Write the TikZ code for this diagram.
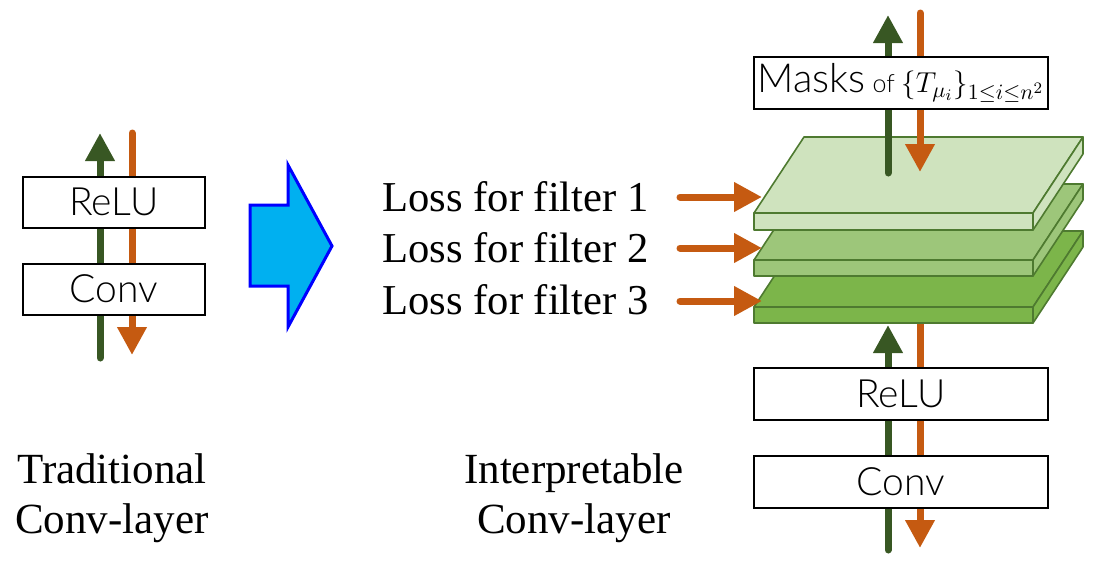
\documentclass[tikz,border=0pt]{standalone}
\usepackage{fontspec}
\setmainfont{Liberation Serif}
\setsansfont{Lato}[UprightFont=* Light]
\usetikzlibrary{arrows.meta,positioning}
\usepackage{xcolor}
\usepackage{amsmath}
\definecolor{fwdgreen}{HTML}{385723}
\definecolor{bwdorange}{HTML}{C55A11}
\definecolor{slabedge}{HTML}{4E7A30}
\definecolor{slabA}{HTML}{CFE3BE}
\definecolor{slabB}{HTML}{9DC67A}
\definecolor{slabC}{HTML}{7CB54A}
\definecolor{bigcyan}{HTML}{00B0F0}

\begin{document}
\begin{tikzpicture}[x=0.5pt, y=-0.5pt, node distance=17pt]
\tikzset{
    layerbox/.style={rectangle, draw=black, fill=white, line width=1pt, minimum width=91pt, minimum height=25.5pt, inner sep=0pt, font=\sffamily\fontsize{19.5}{19.5}\selectfont},
    widebox/.style={layerbox, minimum width=147pt, minimum height=26pt},
    fwdarrow/.style={-{Triangle[length=14pt,width=14pt]}, line width=3.5pt, line cap=round, fwdgreen},
    bwdarrow/.style={-{Triangle[length=14pt,width=14pt]}, line width=3.5pt, line cap=round, bwdorange},
    slab/.style={draw=slabedge, line width=0.8pt, line join=round},
    caption/.style={font=\fontsize{21.5}{25}\selectfont, align=center, inner sep=0pt},
    losslabel/.style={font=\fontsize{21.3}{25}\selectfont, inner sep=0pt, anchor=base west}
}
\useasboundingbox (0,0) rectangle (1104,563);

% gradient flow through the traditional layer
\coordinate (fwdLin) at (100,358);
\coordinate (fwdLout) at (100,133);
\coordinate (bwdLin) at (132,133);
\coordinate (bwdLout) at (132,355);
\draw[fwdarrow] (fwdLin) -- (fwdLout);
\draw[bwdarrow] (bwdLin) -- (bwdLout);

% lower part of the interpretable layer
\coordinate (fwdRin) at (888,550);
\coordinate (fwdRmid) at (888,325);
\coordinate (bwdRmid) at (920,324);
\coordinate (bwdRout) at (920,548);
\draw[fwdarrow] (fwdRin) -- (fwdRmid);
\draw[bwdarrow] (bwdRmid) -- (bwdRout);

% stack of filter slabs, bottom first
\draw[slab, fill=slabC] (754,307) rectangle (1033,323);
\draw[slab, fill=slabC] (754,307) -- (804,231) -- (1083,231) -- (1033,307) -- cycle;
\draw[slab, fill=slabC] (1033,307) -- (1083,231) -- (1083,247) -- (1033,323) -- cycle;
\draw[slab, fill=slabB] (754,260) rectangle (1033,276);
\draw[slab, fill=slabB] (754,260) -- (804,184) -- (1083,184) -- (1033,260) -- cycle;
\draw[slab, fill=slabB] (1033,260) -- (1083,184) -- (1083,200) -- (1033,276) -- cycle;
\draw[slab, fill=slabA] (754,213) rectangle (1033,230);
\draw[slab, fill=slabA] (754,213) -- (804,137) -- (1083,137) -- (1033,213) -- cycle;
\draw[slab, fill=slabA] (1033,213) -- (1083,137) -- (1083,154) -- (1033,230) -- cycle;

% upper part of the interpretable layer
\coordinate (fwdTin) at (888,173);
\coordinate (fwdTout) at (888,15);
\coordinate (bwdTin) at (920,13);
\coordinate (bwdTout) at (920,172);
\draw[fwdarrow] (fwdTin) -- (fwdTout);
\draw[bwdarrow] (bwdTin) -- (bwdTout);

% losses fed into the slabs
\node[losslabel] (lossA) at (382,211) {Loss for filter 1};
\node[losslabel] (lossB) at (382,262) {Loss for filter 2};
\node[losslabel] (lossC) at (382,314) {Loss for filter 3};
\coordinate (lossAin) at (680,197);
\coordinate (lossBin) at (680,248);
\coordinate (lossCin) at (680,301);
\coordinate (slabAedge) at (762,197);
\coordinate (slabBedge) at (762,248);
\coordinate (slabCedge) at (762,301);
\draw[bwdarrow] (lossAin) -- (slabAedge);
\draw[bwdarrow] (lossBin) -- (slabBedge);
\draw[bwdarrow] (lossCin) -- (slabCedge);

% boxes
\node[layerbox] (reluL) at (114,202) {ReLU};
\node[layerbox, below=of reluL] (convL) {Conv};
\node[widebox] (reluR) at (901,394) {ReLU};
\node[widebox, below=of reluR] (convR) {Conv};
\node[widebox] (masks) at (901,83) {\fontsize{20}{20}\selectfont Masks\,{\fontsize{12.5}{12.5}\selectfont of}\,{\fontsize{15.5}{15.5}\selectfont$\{T_{\mu_i}\}_{1\leq i\leq n^2}$}};

% the big arrow between both layers
\draw[line width=1.5pt, draw=blue, fill=bigcyan] (250,205) -- (288,205) -- (288,165) -- (332,246) -- (288,327) -- (288,286) -- (250,286) -- cycle;

\node[caption] (tradcap) at (112,498) {Traditional\\Conv-layer};
\node[caption] (interpcap) at (574,498) {Interpretable\\Conv-layer};

\end{tikzpicture}
\end{document}
